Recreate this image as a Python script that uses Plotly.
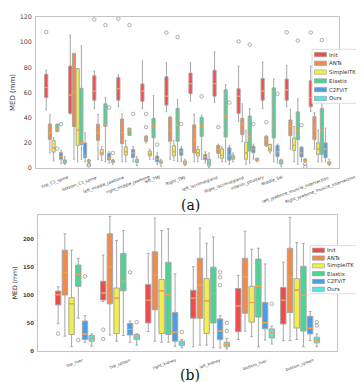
import plotly.graph_objects as go

# --- data (values in mm) ---
METHODS = ["Init", "ANTs", "SimpleITK", "Elastix", "C2FViT", "Ours"]
COLORS = ["#f04a4a", "#f08b4c", "#f2ef4c", "#4cd494", "#4a9ee6", "#4ce8e8"]

A_CATS = ["top_C1_spine", "bottom_C1_spine", "left_middle_jawbone", "right_middle_jawbone",
          "left_TMJ", "Right_TMJ", "left_lacrimalgland", "Right_lacrimalgland",
          "inferior_pituitary", "Middle_Sel", "left_jawbone_muscle_intersection",
          "Right_jawbone_muscle_intersection"]

# one row per method, one value per landmark
A_LO = [[46, 43, 47, 48.6, 47.3, 44.7, 53.2, 52, 36.9, 47.3, 48.6, 45],
        [12, 7, 7, 5, 20, 7, 5, 8, 21, 17, 15, 15],
        [5.7, 5, 6, 5, 7, 6, 5, 5, 3, 12, 5, 5],
        [29, 7, 5, 26, 7, 5, 7, 5, 4, 5, 3, 5],
        [3.5, 5, 4, 5, 3, 5, 4, 3, 7, 4, 5, 5],
        [3, 4, 3, 2, 1.5, 2, 0.5, 5, 5, 1, 5, 2]]
A_Q1 = [[56, 43.4, 53.8, 53.8, 53, 50, 59, 57, 43.4, 53.8, 53.8, 48.6],
        [22.6, 33, 22, 19.5, 21.3, 21.3, 12, 11.7, 26.5, 17.9, 25.7, 22.6],
        [12.7, 18, 10.4, 10.4, 9.6, 9.6, 9.6, 7.8, 7, 13.5, 14, 10.9],
        [29, 18.7, 33, 26, 24, 21.3, 25.2, 24.7, 13.5, 23.9, 22.6, 10.9],
        [7, 8.3, 6.5, 8.3, 5, 10.1, 6.5, 6.2, 12.2, 9.1, 8.8, 8.3],
        [3.9, 5, 4.4, 4.4, 3.9, 3, 1.8, 7, 5.7, 3.1, 5.5, 3.1]]
A_MED = [[64, 58, 61, 63, 61, 57, 67, 67, 57, 61, 62, 56],
         [28, 60, 28, 28, 23, 30, 22, 15, 35, 22, 33, 32],
         [16, 30, 12, 13, 11, 13, 12, 10, 12, 15, 18, 15],
         [31, 20, 34, 30, 33, 34, 33, 41, 25, 35.6, 30, 30],
         [9, 10, 8, 12, 7, 13, 9, 10, 15, 13, 12, 15],
         [5, 5.5, 5, 5, 5, 4.5, 4, 8, 6.5, 5, 6, 4]]
A_Q3 = [[74.5, 81, 73.3, 72, 66.8, 72.5, 75.4, 77.7, 63, 71.2, 70.7, 69.4],
        [35, 91, 34.8, 39, 25.2, 40.3, 34.3, 17.9, 39.5, 25.2, 38.2, 40.8],
        [21.8, 79, 14.8, 16.9, 13.5, 17.9, 14.8, 15.3, 20.5, 18.7, 23.9, 20],
        [34.8, 63.3, 51, 31.7, 39.5, 47.3, 40.3, 62.1, 41.3, 63.7, 44.7, 47.3],
        [12.2, 20, 11.7, 14.8, 9.6, 15.3, 10.9, 16.1, 17.4, 17.9, 16.6, 20],
        [6.5, 6.5, 6.2, 7, 5.7, 5.7, 7, 10.1, 7.6, 6.5, 7, 4.9]]
A_HI = [[77.7, 105.7, 77, 74, 85, 83.6, 83.6, 92.2, 81, 84.2, 81.6, 81],
        [42.3, 91, 42.5, 43, 26, 41, 43, 19, 51, 26, 46.5, 44],
        [24, 79, 17, 22, 15, 22, 17, 17, 30, 19, 33, 30],
        [35, 97, 56, 31.7, 57.7, 54.3, 42, 66.3, 47.3, 70.7, 55, 55],
        [14, 28, 13, 17, 12, 17, 13, 18, 19, 19, 17, 31.7],
        [9, 7, 7, 9, 7, 7, 12, 12, 8, 7, 7.5, 7]]
# outliers as (landmark index, value)
A_OUT = [[(0, 108), (2, 118), (3, 118.7), (5, 107.5), (8, 100.5), (10, 107.8), (11, 107.6)],
         [(4, 43), (4, 32.5), (7, 32.5), (9, 36.4)],
         [],
         [(0, 15.5), (2, 113.5), (3, 113.5), (5, 104), (6, 57), (8, 98), (10, 101.3), (11, 101.6)],
         [(0, 34.8), (2, 48), (3, 43), (4, 18.7), (5, 35), (7, 52), (8, 34.8), (9, 59), (10, 34)],
         [(1, 3), (1, 2), (2, 12), (10, 3.5), (10, 1)]]

B_CATS = ["top_liver", "top_spleen", "right_kidney", "left_kidney", "bottom_liver", "bottom_spleen"]

B_LO = [[48, 87.7, 34, 7, 20, 18],
        [26, 28, 17, 10, 35, 18],
        [7, 17, 15, 10, 25, 20],
        [58, 27, 15, 5, 7, 7],
        [15, 15, 8, 5, 19, 18],
        [8, 10, 5, 3, 12, 7]]
B_Q1 = [[81.8, 90.6, 49.5, 58, 34, 47.7],
        [99.4, 83.7, 73, 58, 67, 68],
        [28.8, 30.5, 30.5, 30.5, 51, 40.5],
        [115, 107, 28.8, 49.5, 60, 35],
        [19.8, 28, 17, 19.8, 39, 30],
        [17, 19.8, 9, 7, 22.8, 14]]
B_MED = [[100, 103, 90, 93.6, 80, 90],
         [140, 150, 135, 117, 131.6, 131.6],
         [84, 93.6, 107, 89, 86, 108],
         [136, 124, 100, 102, 115, 99.4],
         [30, 38, 33, 35, 50, 40],
         [23, 24, 13, 11, 33, 19]]
B_Q3 = [[106.4, 124, 118, 108, 111, 112.8],
        [179.5, 208.8, 176.6, 165, 165, 183],
        [94.7, 112, 127, 128.6, 115, 128.6],
        [153, 173.7, 158, 149, 163.7, 150.8],
        [53, 48.6, 68.4, 56.7, 86, 61.4],
        [27, 28.8, 17, 15, 38.8, 24]]
B_HI = [[114, 170.8, 173.7, 150, 134.5, 158],
        [208.8, 240, 236.8, 219, 213.4, 238],
        [179.5, 197, 214.6, 191.8, 181, 193],
        [165, 214.6, 217.5, 203, 183, 191.8],
        [62.5, 53, 137, 62.6, 155, 70],
        [30, 30, 20, 22, 44, 30]]
B_OUT = [[(0, 30.5), (1, 37.5), (1, 21)],
         [],
         [],
         [(0, 19)],
         [(0, 132.8), (1, 140), (3, 117), (3, 131), (3, 140)],
         [(1, 51), (2, 33.5), (3, 49.5), (3, 35), (4, 83.6), (5, 51), (5, 45)]]

W, H = 364, 382


def px_x(px):
    return px / W


def px_y(py):
    return 1 - py / H


fig = go.Figure()


def add_panel(cats, lo, q1, med, q3, hi, out, xa, ya, step, width):
    n = len(cats)
    for k, name in enumerate(METHODS):
        off = (k - 2.5) * step
        pos = [i + off for i in range(n)]
        fig.add_trace(go.Box(
            x=pos, q1=q1[k], median=med[k], q3=q3[k],
            lowerfence=lo[k], upperfence=hi[k],
            width=width, fillcolor=COLORS[k],
            line=dict(color="#a6a6a6", width=1), whiskerwidth=0.5,
            boxpoints=False, name=name, showlegend=False, hoverinfo="skip",
            xaxis=xa, yaxis=ya))
        # orange median line drawn as a flat box on top
        fig.add_trace(go.Box(
            x=pos, q1=med[k], median=med[k], q3=med[k],
            lowerfence=med[k], upperfence=med[k],
            width=width, fillcolor="rgba(0,0,0,0)",
            line=dict(color="#f2a24a", width=0.8), whiskerwidth=0,
            boxpoints=False, showlegend=False, hoverinfo="skip",
            xaxis=xa, yaxis=ya))
        if out[k]:
            fig.add_trace(go.Scatter(
                x=[g + off for g, v in out[k]], y=[v for g, v in out[k]],
                mode="markers",
                marker=dict(symbol="circle-open", size=3.5, color="#7a7a7a",
                            line=dict(width=0.6)),
                showlegend=False, hoverinfo="skip", xaxis=xa, yaxis=ya))


add_panel(A_CATS, A_LO, A_Q1, A_MED, A_Q3, A_HI, A_OUT, "x", "y", 0.154, 0.13)
add_panel(B_CATS, B_LO, B_Q1, B_MED, B_Q3, B_HI, B_OUT, "x2", "y2", 0.149, 0.12)

frame = dict(showline=True, mirror=True, linecolor="#c4c4c4", linewidth=1,
             showgrid=False, zeroline=False, ticks="")

fig.update_layout(
    width=W, height=H,
    margin=dict(l=0, r=0, t=0, b=0),
    paper_bgcolor="white", plot_bgcolor="white",
    font=dict(family="DejaVu Sans", color="#333"),
    boxmode="overlay",
    xaxis=dict(domain=[px_x(28), px_x(331)], range=[-0.81, 11.79], anchor="y",
               showticklabels=False, **frame),
    yaxis=dict(domain=[px_y(159), px_y(5)], range=[0, 120], anchor="x",
               tickvals=[0, 20, 40, 60, 80, 100, 120], tickfont=dict(size=6.3, color="#444"),
               ticklabelstandoff=2,
               title=dict(text="MED (mm)", font=dict(size=7, color="#333"), standoff=3),
               **frame),
    xaxis2=dict(domain=[px_x(30), px_x(329)], range=[-0.82, 5.82], anchor="y2",
                showticklabels=False, **frame),
    yaxis2=dict(domain=[px_y(345), px_y(207)], range=[0, 242], anchor="x2",
                tickvals=[0, 50, 100, 150, 200],
                tickfont=dict(size=5.3, color="#444", weight="bold"),
                ticklabelstandoff=2,
                title=dict(text="MED (mm)", font=dict(size=6.2, color="#333"), standoff=4),
                **frame),
)

# rotated landmark labels under each panel
for i, c in enumerate(A_CATS):
    fig.add_annotation(x=i, y=px_y(159), xref="x", yref="paper", text=c,
                       showarrow=False, textangle=-20, xanchor="center", yanchor="top",
                       yshift=-4, font=dict(size=4.2, color="#444"))
for i, c in enumerate(B_CATS):
    fig.add_annotation(x=i, y=px_y(345), xref="x2", yref="paper", text=c,
                       showarrow=False, textangle=-20, xanchor="center", yanchor="top",
                       yshift=-4, font=dict(size=4.0, color="#444"))

# captions
for txt, py in [("(a)", 197), ("(b)", 370)]:
    fig.add_annotation(x=0.5, y=px_y(py), xref="paper", yref="paper", text=txt,
                       showarrow=False, xanchor="center", yanchor="middle",
                       font=dict(family="DejaVu Serif", size=14, color="#111"))


# legends drawn by hand so they stay as compact as the original
def legend_box(x0, x1, y0, y1, row0, dy, tx):
    fig.add_shape(type="rect", xref="paper", yref="paper",
                  x0=px_x(x0), x1=px_x(x1), y0=px_y(y1), y1=px_y(y0),
                  fillcolor="rgba(255,255,255,0.9)", line=dict(color="#dddddd", width=1))
    for k, name in enumerate(METHODS):
        cy = row0 + k * dy
        fig.add_shape(type="rect", xref="paper", yref="paper",
                      x0=px_x(x0 + 2.5), x1=px_x(x0 + 14.5),
                      y0=px_y(cy + 2.2), y1=px_y(cy - 2.2),
                      fillcolor=COLORS[k], line=dict(color="#999", width=0.6))
        fig.add_annotation(x=px_x(tx), y=px_y(cy), xref="paper", yref="paper",
                           text=name, showarrow=False, xanchor="left", yanchor="middle",
                           xshift=-3, font=dict(size=5.4, color="#333"))


legend_box(304, 357, 38, 93, 43.3, 8.95, 322)
legend_box(302, 355, 238, 287, 242.7, 7.95, 319.5)

fig.write_html("out.html")
